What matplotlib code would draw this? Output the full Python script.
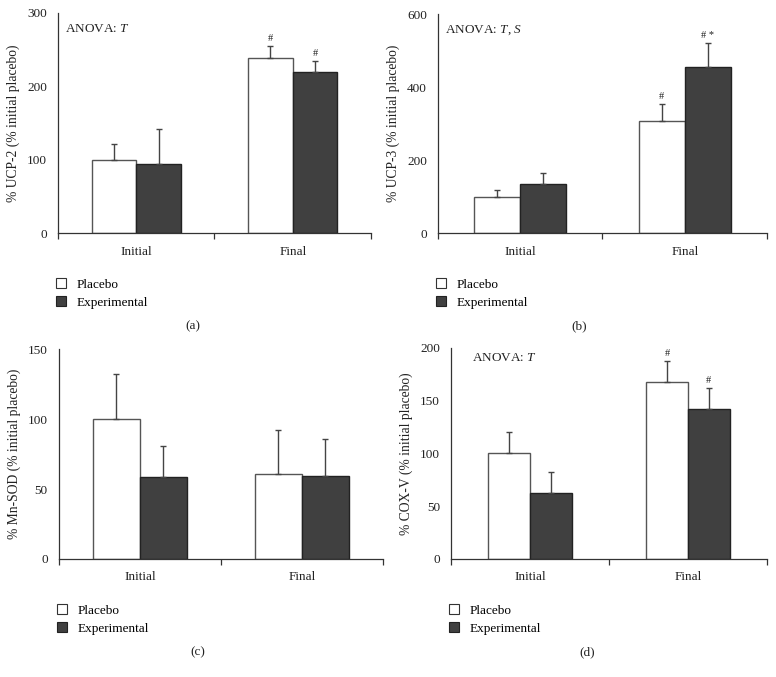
import numpy as np
import matplotlib
matplotlib.use('Agg')
from matplotlib import pyplot as plt
from matplotlib.patches import Patch

plt.rcParams['font.family'] = ['Liberation Serif', 'DejaVu Serif']
plt.rcParams['mathtext.fontset'] = 'custom'
plt.rcParams['mathtext.rm'] = 'Liberation Serif'
plt.rcParams['mathtext.it'] = 'Liberation Serif:italic'

# data
groups = ['Initial', 'Final']
series = ['Placebo', 'Experimental']

ucp2_placebo = [100, 238]
ucp2_placebo_err = [22, 17]
ucp2_exp = [94, 219]
ucp2_exp_err = [48, 15]

ucp3_placebo = [100, 306]
ucp3_placebo_err = [18, 47]
ucp3_exp = [135, 454]
ucp3_exp_err = [29, 66]

mnsod_placebo = [100, 61]
mnsod_placebo_err = [32, 31]
mnsod_exp = [58.5, 59]
mnsod_exp_err = [22, 26.5]

cox_placebo = [100, 167.5]
cox_placebo_err = [20, 20]
cox_exp = [62.5, 142]
cox_exp_err = [20, 20]

panels = [
    dict(pos=[0.0747, 0.6558, 0.4034, 0.325], ylim=300, yticks=[0, 100, 200, 300],
         ylabel='% UCP-2 (% initial placebo)', p=ucp2_placebo, pe=ucp2_placebo_err,
         e=ucp2_exp, ee=ucp2_exp_err, anova='ANOVA: $T$', anova_xy=(0.022, 0.927),
         marks_p=['', '#'], marks_e=['', '#'], tag='(a)', width=0.285),
    dict(pos=[0.5644, 0.6558, 0.424, 0.3235], ylim=600, yticks=[0, 200, 400, 600],
         ylabel='% UCP-3 (% initial placebo)', p=ucp3_placebo, pe=ucp3_placebo_err,
         e=ucp3_exp, ee=ucp3_exp_err, anova='ANOVA: $T$, $S$', anova_xy=(0.02, 0.927),
         marks_p=['', '#'], marks_e=['', '# *'], tag='(b)', width=0.28),
    dict(pos=[0.076, 0.1743, 0.4175, 0.310], ylim=150, yticks=[0, 50, 100, 150],
         ylabel='% Mn-SOD (% initial placebo)', p=mnsod_placebo, pe=mnsod_placebo_err,
         e=mnsod_exp, ee=mnsod_exp_err, anova=None, anova_xy=None,
         marks_p=['', ''], marks_e=['', ''], tag='(c)', width=0.29),
    dict(pos=[0.5812, 0.1743, 0.4072, 0.3117], ylim=200, yticks=[0, 50, 100, 150, 200],
         ylabel='% COX-V (% initial placebo)', p=cox_placebo, pe=cox_placebo_err,
         e=cox_exp, ee=cox_exp_err, anova='ANOVA: $T$', anova_xy=(0.066, 0.953),
         marks_p=['', '#'], marks_e=['', '#'], tag='(d)', width=0.264),
]

dark = '#404040'
edge = '#222222'

fig = plt.figure(figsize=(7.76, 6.77), dpi=100)

for pn in panels:
    ax = fig.add_axes(pn['pos'])
    x = np.arange(len(groups))
    w = pn['width']
    ax.bar(x - w/2, pn['p'], w, color='white', edgecolor='#555555', linewidth=1.0)
    ax.bar(x + w/2, pn['e'], w, color=dark, edgecolor=edge, linewidth=1.0)
    # upper error bars only
    ax.errorbar(x - w/2, pn['p'], yerr=[np.zeros(2), pn['pe']], fmt='none',
                ecolor='#444444', elinewidth=1.0, capsize=2.5, capthick=1.0)
    ax.errorbar(x + w/2, pn['e'], yerr=[np.zeros(2), pn['ee']], fmt='none',
                ecolor='#444444', elinewidth=1.0, capsize=2.5, capthick=1.0)

    off = pn['ylim'] * 0.035
    for i in range(len(groups)):
        if pn['marks_p'][i]:
            ax.text(i - w/2, pn['p'][i] + pn['pe'][i] + off, pn['marks_p'][i],
                    ha='center', va='center', fontsize=7.5, color='#222222')
        if pn['marks_e'][i]:
            ax.text(i + w/2, pn['e'][i] + pn['ee'][i] + off, pn['marks_e'][i],
                    ha='center', va='center', fontsize=7.5, color='#222222')

    ax.set_xlim(-0.5, 1.5)
    ax.set_ylim(0, pn['ylim'])
    ax.set_yticks(pn['yticks'])
    ax.tick_params(axis='y', length=0, pad=8, labelsize=9.5, colors='#222222')
    ax.set_xticks([-0.5, 0.5, 1.5])
    ax.set_xticklabels([])
    ax.tick_params(axis='x', which='major', length=4, width=0.9, direction='out', color='#333333')
    ax.set_xticks(x, minor=True)
    ax.set_xticklabels(groups, minor=True)
    ax.tick_params(axis='x', which='minor', length=0, pad=9, labelsize=9.5, colors='#222222')
    ax.set_ylabel(pn['ylabel'], fontsize=9.8, labelpad=5, color='#222222')
    for s in ['top', 'right']:
        ax.spines[s].set_visible(False)
    for s in ['left', 'bottom']:
        ax.spines[s].set_color('#333333')
        ax.spines[s].set_linewidth(0.9)

    if pn['anova']:
        ax.text(pn['anova_xy'][0], pn['anova_xy'][1], pn['anova'], transform=ax.transAxes,
                ha='left', va='center', fontsize=9.5, color='#222222')

    l, b, wd, h = pn['pos']
    handles = [Patch(facecolor='white', edgecolor='#333333', linewidth=0.8, label=series[0]),
               Patch(facecolor=dark, edgecolor=edge, linewidth=0.8, label=series[1])]
    fig.legend(handles=handles, loc='upper left', bbox_to_anchor=(l - 0.002, b - 0.067),
               bbox_transform=fig.transFigure, frameon=False, fontsize=9.5,
               handlelength=0.75, handleheight=0.75, handletextpad=0.8,
               labelspacing=0.42, borderaxespad=0.0, borderpad=0.0)
    fig.text(l + wd * 0.43, b - 0.138, pn['tag'], ha='center', va='center', fontsize=9.5,
             color='#222222')

fig.savefig('out.png', dpi=100)
